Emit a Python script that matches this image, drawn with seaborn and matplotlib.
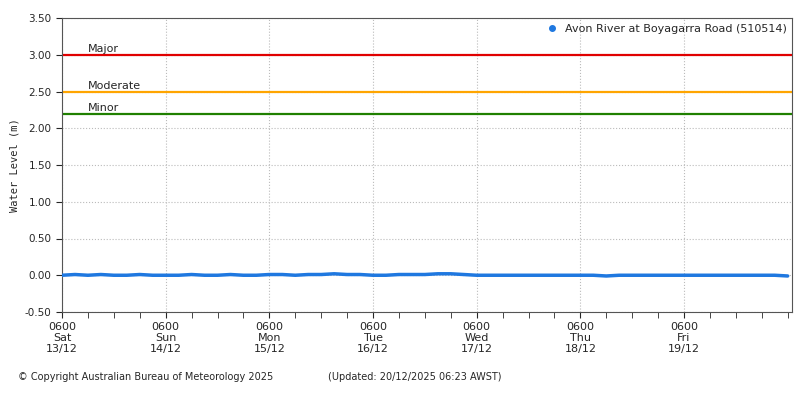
import numpy as np
import pandas as pd
import seaborn as sns
import matplotlib.pyplot as plt
import matplotlib.dates as mdates

# 3-hourly water level readings (m), Sat 13/12 06:00 onward
levels = [0.00, 0.01, 0.00, 0.01, 0.00, 0.00, 0.01, 0.00,
          0.00, 0.00, 0.01, 0.00, 0.00, 0.01, 0.00, 0.00,
          0.01, 0.01, 0.00, 0.01, 0.01, 0.02, 0.01, 0.01,
          0.00, 0.00, 0.01, 0.01, 0.01, 0.02, 0.02, 0.01,
          0.00, 0.00, 0.00, 0.00, 0.00, 0.00, 0.00, 0.00,
          0.00, 0.00, -0.01, 0.00, 0.00, 0.00, 0.00, 0.00,
          0.00, 0.00, 0.00, 0.00, 0.00, 0.00, 0.00, 0.00, -0.01]
times = pd.date_range("2025-12-13 06:00", periods=len(levels), freq="3h")
df = pd.DataFrame({"time": times, "level": levels})

thresholds = {"Major": (3.0, "#e00000"), "Moderate": (2.5, "#ffa500"), "Minor": (2.2, "#208000")}
day_labels = ["0600\nSat\n13/12", "0600\nSun\n14/12", "0600\nMon\n15/12", "0600\nTue\n16/12",
              "0600\nWed\n17/12", "0600\nThu\n18/12", "0600\nFri\n19/12"]

sns.set_style("white")
plt.rcParams["font.family"] = ["DejaVu Sans"]
fig = plt.figure(figsize=(8, 4), dpi=100)
ax = fig.add_axes([0.0775, 0.22, 0.9125, 0.735])

for name, (val, col) in thresholds.items():
    ax.axhline(val, color=col, lw=1.6, zorder=2)
    ax.text(mdates.date2num(pd.Timestamp("2025-12-13 12:00")), val + 0.01, name,
            fontsize=8, va="bottom")

sns.lineplot(data=df, x="time", y="level", ax=ax, color="#1f78e0", lw=2.5,
             label="Avon River at Boyagarra Road (510514)", zorder=3)
h, l = ax.get_legend_handles_labels()
ax.legend([plt.Line2D([], [], marker="o", ls="", color="#1f78e0", ms=4)], [l[0]],
          loc="upper right", frameon=False, fontsize=8, handletextpad=0.1,
          borderaxespad=0.1)

ax.set_ylim(-0.5, 3.5)
ax.set_yticks(np.arange(-0.5, 3.51, 0.5))
ax.set_yticklabels([f"{v:.2f}" for v in np.arange(-0.5, 3.51, 0.5)], fontsize=7.5)
ax.set_xlim(pd.Timestamp("2025-12-13 06:00"), pd.Timestamp("2025-12-20 07:00"))
ax.set_xticks(pd.date_range("2025-12-13 06:00", periods=7, freq="D"))
ax.set_xticklabels(day_labels, fontsize=8, linespacing=1.1)
ax.xaxis.set_minor_locator(mdates.HourLocator(byhour=[0, 6, 12, 18]))
ax.tick_params(axis="x", which="both", direction="out", length=4, bottom=True)
ax.tick_params(axis="y", length=4, left=True)
ax.grid(True, which="major", ls=":", color="#bbbbbb", lw=0.8)
for s in ax.spines.values():
    s.set_color("#555555")
    s.set_linewidth(0.8)
ax.set_xlabel("")
ax.set_ylabel("Water Level (m)", fontsize=7.5, family="DejaVu Sans Mono")

fig.text(0.022, 0.05, "© Copyright Australian Bureau of Meteorology 2025", fontsize=7)
fig.text(0.41, 0.05, "(Updated: 20/12/2025 06:23 AWST)", fontsize=7)
fig.savefig("out.png", dpi=100)
